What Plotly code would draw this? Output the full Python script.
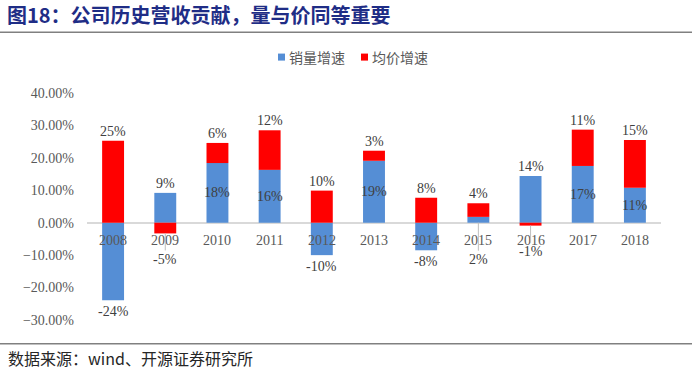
import plotly.graph_objects as go

# ---------------- data ----------------
years = ['2008', '2009', '2010', '2011', '2012', '2013', '2014', '2015', '2016', '2017', '2018']
vol_growth = [-0.239, 0.092, 0.184, 0.163, -0.100, 0.191, -0.085, 0.018, 0.144, 0.175, 0.108]
price_growth = [0.253, -0.033, 0.062, 0.122, 0.099, 0.031, 0.077, 0.042, -0.009, 0.112, 0.147]
vol_labels = ['-24%', '9%', '18%', '16%', '-10%', '19%', '-8%', '2%', '14%', '17%', '11%']
price_labels = ['25%', '-5%', '6%', '12%', '10%', '3%', '8%', '4%', '-1%', '11%', '15%']
y_ticks = [-0.3, -0.2, -0.1, 0.0, 0.1, 0.2, 0.3, 0.4]
series_names = ['销量增速', '均价增速']
title_text = '图18：公司历史营收贡献，量与价同等重要'
source_text = '数据来源：wind、开源证券研究所'

# ---------------- style ----------------
W_FIG, H_FIG = 700, 375
L, R, T, B = 87, 39, 93.3, 55.4
PW = W_FIG - L - R
PH = H_FIG - T - B
BLUE = '#558ED5'
RED = '#FF0000'
SERIF = 'Liberation Serif, Times New Roman, serif'
CJK = 'Noto Sans CJK SC'
GRAY = '#595959'
YMIN, YMAX = y_ticks[0], y_ticks[-1]


def pxx(px):
    return (px - L) / PW


def pxy(py):
    return (T + PH - py) / PH


fig = go.Figure()
fig.add_bar(x=years, y=vol_growth, name=series_names[0], marker_color=BLUE,
            marker_line_width=0, width=0.42, showlegend=False, hoverinfo='skip')
fig.add_bar(x=years, y=price_growth, name=series_names[1], marker_color=RED,
            marker_line_width=0, width=0.42, showlegend=False, hoverinfo='skip')

lab_font = dict(family=SERIF, size=14, color='#404040')
tick_font = dict(family=SERIF, size=14, color=GRAY)
anns = []
for i, (yr, v, p, vl, pl) in enumerate(zip(years, vol_growth, price_growth, vol_labels, price_labels)):
    # category tick label, placed just under the zero line
    anns.append(dict(x=i, y=0, text=yr, showarrow=False, yanchor='top', yshift=-8, font=tick_font))
    # price labels
    if p >= 0:
        top = p + max(v, 0)
        anns.append(dict(x=i, y=top, text=pl, showarrow=False, yanchor='bottom', font=lab_font))
    else:
        bot = p + min(v, 0)
        anns.append(dict(x=i, y=bot, text=pl, showarrow=True, ax=0, ay=26, arrowhead=0,
                         arrowwidth=1, arrowcolor='#bfbfbf', font=lab_font))
    # volume labels
    same_sign = (v >= 0) == (p >= 0)
    if not same_sign:
        if v < 0:
            anns.append(dict(x=i, y=v, text=vl, showarrow=False, yanchor='top', yshift=-2, font=lab_font))
        else:
            anns.append(dict(x=i, y=v, text=vl, showarrow=False, yanchor='bottom', font=lab_font))
    elif abs(v) >= 0.05:
        anns.append(dict(x=i, y=v / 2, text=vl, showarrow=False, font=lab_font))
    else:
        anns.append(dict(x=i, y=0, text=vl, showarrow=True, ax=0, ay=37, arrowhead=0,
                         arrowwidth=1, arrowcolor='#bfbfbf', font=lab_font))

# title, source
anns.append(dict(xref='paper', yref='paper', x=pxx(5), y=pxy(15), xanchor='left', yanchor='middle',
                 text='<b>' + title_text + '</b>', showarrow=False,
                 font=dict(family=CJK, size=20, color='#1F2D86')))
anns.append(dict(xref='paper', yref='paper', x=pxx(6), y=pxy(357), xanchor='left', yanchor='middle',
                 text=source_text, showarrow=False,
                 font=dict(family=CJK, size=16, color='#262626')))

# custom legend
shapes = []
leg_items = [(series_names[0], BLUE, 278), (series_names[1], RED, 361)]
for name, col, x0 in leg_items:
    shapes.append(dict(type='rect', xref='paper', yref='paper', x0=pxx(x0), x1=pxx(x0 + 7),
                       y0=pxy(61), y1=pxy(54), fillcolor=col, line_width=0))
    anns.append(dict(xref='paper', yref='paper', x=pxx(x0 + 9), y=pxy(57.5), xanchor='left',
                     yanchor='middle', text=name, showarrow=False,
                     font=dict(family=CJK, size=14, color=GRAY)))

# separator lines
for yy in (32.7, 343.3):
    shapes.append(dict(type='line', xref='paper', yref='paper', x0=pxx(0), x1=pxx(692),
                       y0=pxy(yy), y1=pxy(yy), line=dict(color='#808080', width=1.5)))

fig.update_layout(
    width=W_FIG, height=H_FIG,
    margin=dict(l=L, r=R, t=T, b=B),
    barmode='relative',
    plot_bgcolor='white', paper_bgcolor='white',
    annotations=anns, shapes=shapes,
    hovermode=False,
    xaxis=dict(type='category', categoryorder='array', categoryarray=years,
               range=[-0.5, len(years) - 0.5],
               showline=False, ticks='', showgrid=False, showticklabels=False),
    yaxis=dict(range=[YMIN, YMAX], tickvals=y_ticks, tickformat='.2%', showgrid=False,
               zeroline=True, zerolinecolor='#d9d9d9', zerolinewidth=1.5,
               showline=False, ticks='',
               tickfont=tick_font, ticklabelstandoff=12),
    showlegend=False,
)

fig.write_html('out.html', config={'displayModeBar': False},
               post_script="document.body.style.margin='0';")
